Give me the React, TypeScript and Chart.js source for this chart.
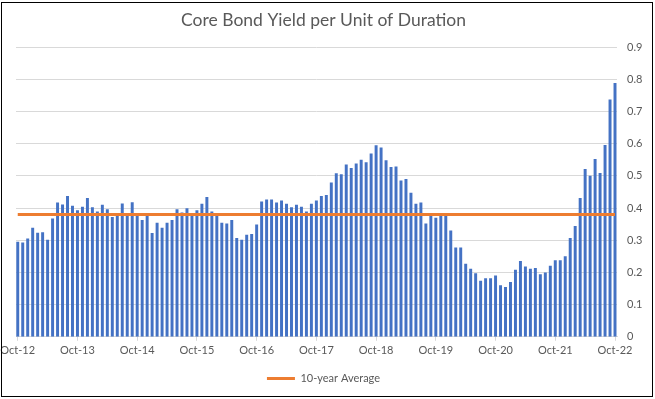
import { useEffect, useRef } from "react";
import { Chart, registerables } from "chart.js";

Chart.register(...registerables);

const xTickLabels = [
  "Oct-12", "Oct-13", "Oct-14", "Oct-15", "Oct-16", "Oct-17",
  "Oct-18", "Oct-19", "Oct-20", "Oct-21", "Oct-22",
];

// Monthly values, Oct-12 .. Oct-22
const yieldPerDuration = [
  0.294, 0.292, 0.304, 0.338, 0.322, 0.324, 0.300, 0.366, 0.416, 0.410, 0.436, 0.406,
  0.392, 0.403, 0.430, 0.401, 0.388, 0.409, 0.395, 0.371, 0.376, 0.413, 0.376, 0.417,
  0.376, 0.362, 0.375, 0.321, 0.353, 0.338, 0.353, 0.362, 0.395, 0.385, 0.398, 0.376,
  0.392, 0.412, 0.433, 0.388, 0.376, 0.353, 0.351, 0.362, 0.306, 0.300, 0.316, 0.318,
  0.348, 0.419, 0.425, 0.425, 0.416, 0.422, 0.412, 0.401, 0.409, 0.403, 0.388, 0.412,
  0.422, 0.436, 0.439, 0.478, 0.507, 0.504, 0.534, 0.523, 0.537, 0.549, 0.541, 0.568,
  0.594, 0.587, 0.547, 0.526, 0.528, 0.484, 0.489, 0.446, 0.412, 0.416, 0.351, 0.375,
  0.369, 0.375, 0.375, 0.329, 0.276, 0.276, 0.226, 0.210, 0.196, 0.173, 0.181, 0.181,
  0.189, 0.159, 0.154, 0.169, 0.207, 0.234, 0.217, 0.210, 0.213, 0.193, 0.199, 0.220,
  0.237, 0.237, 0.249, 0.306, 0.343, 0.430, 0.520, 0.499, 0.551, 0.508, 0.595, 0.736,
  0.787,
];

const tenYearAverage = 0.38;

const yTicks = [0, 0.1, 0.2, 0.3, 0.4, 0.5, 0.6, 0.7, 0.8, 0.9];

const FONT = "Lato, 'Open Sans', sans-serif";
const TEXT = "#595959";
const GRID = "#d9d9d9";

export default function App() {
  const ref = useRef<HTMLCanvasElement>(null);

  useEffect(() => {
    document.body.style.margin = "0";
    if (!ref.current) return;

    const barData = yieldPerDuration.map((v, i) => ({ x: i, y: v }));
    const avgData = [
      { x: 0, y: tenYearAverage },
      { x: yieldPerDuration.length - 1, y: tenYearAverage },
    ];

    const framePlugin = {
      id: "frame",
      beforeDraw(c: any) {
        const ctx = c.ctx;
        ctx.save();
        ctx.fillStyle = "#ffffff";
        ctx.fillRect(0, 0, c.width, c.height);
        ctx.restore();
      },
      afterDraw(c: any) {
        const ctx = c.ctx;
        ctx.save();
        ctx.strokeStyle = "#000000";
        ctx.lineWidth = 1;
        ctx.strokeRect(1.5, 2.5, 651, 394);
        ctx.restore();
      },
    };

    const chart = new Chart(ref.current, {
      type: "bar",
      data: {
        datasets: [
          {
            type: "line",
            label: "10-year Average",
            data: avgData,
            xAxisID: "x",
            yAxisID: "y",
            borderColor: "#ED7D31",
            backgroundColor: "#ED7D31",
            borderWidth: 3,
            pointRadius: 0,
            order: 0,
          } as any,
          {
            type: "bar",
            label: "Yield per Unit of Duration",
            data: barData,
            xAxisID: "x",
            yAxisID: "y",
            backgroundColor: "#4472C4",
            barThickness: 2.3,
            order: 1,
          } as any,
        ],
      },
      options: {
        responsive: false,
        animation: false,
        layout: { padding: { left: 0, right: 8, top: 0, bottom: 5 } },
        plugins: {
          title: {
            display: true,
            text: "Core Bond Yield per Unit of Duration",
            color: TEXT,
            font: { family: FONT, size: 17.5, weight: "normal" },
            padding: { top: 10, bottom: 16 },
          },
          legend: {
            position: "bottom",
            labels: {
              filter: (item: any) => item.text === "10-year Average",
              usePointStyle: true,
              pointStyle: "line",
              pointStyleWidth: 28,
              color: TEXT,
              font: { family: FONT, size: 11 },
            },
          },
          tooltip: { enabled: false },
        },
        scales: {
          x: {
            type: "linear",
            offset: false,
            min: -0.35,
            max: 120.4,
            afterBuildTicks: (s: any) => {
              s.ticks = xTickLabels.map((_, k) => ({ value: k * 12 }));
            },
            afterFit: (s: any) => {
              s.paddingLeft = 0;
              s.paddingRight = 0;
              s.height += 3;
            },
            ticks: {
              callback: (v: any) => xTickLabels[Math.round(Number(v) / 12)] ?? "",
              color: TEXT,
              font: { family: FONT, size: 11 },
              maxRotation: 0,
              autoSkip: false,
              padding: 3,
            },
            grid: { drawOnChartArea: false, offset: false, color: GRID, tickLength: 4 },
            border: { color: GRID },
          },
          y: {
            type: "linear",
            position: "right",
            min: 0,
            max: 0.9,
            afterBuildTicks: (s: any) => {
              s.ticks = yTicks.map((v) => ({ value: v }));
            },
            afterFit: (s: any) => {
              s.width = 30;
              s.paddingTop = 0;
              s.paddingBottom = 0;
            },
            ticks: {
              callback: (v: any) => (Number(v) === 0 ? "0" : Number(v).toFixed(1)),
              color: TEXT,
              font: { family: FONT, size: 11 },
              padding: 10,
            },
            grid: { color: GRID, drawTicks: false },
            border: { display: false },
          },
          yLeft: {
            type: "linear",
            position: "left",
            min: 0,
            max: 1,
            afterFit: (s: any) => {
              s.width = 16;
              s.paddingTop = 0;
              s.paddingBottom = 0;
            },
            ticks: { display: false },
            grid: { display: false },
            border: { display: false },
          },
        },
      } as any,
      plugins: [framePlugin],
    });

    return () => chart.destroy();
  }, []);

  return (
    <div style={{ width: 655, height: 399 }}>
      <canvas ref={ref} width={655} height={399} style={{ display: "block" }} />
    </div>
  );
}
